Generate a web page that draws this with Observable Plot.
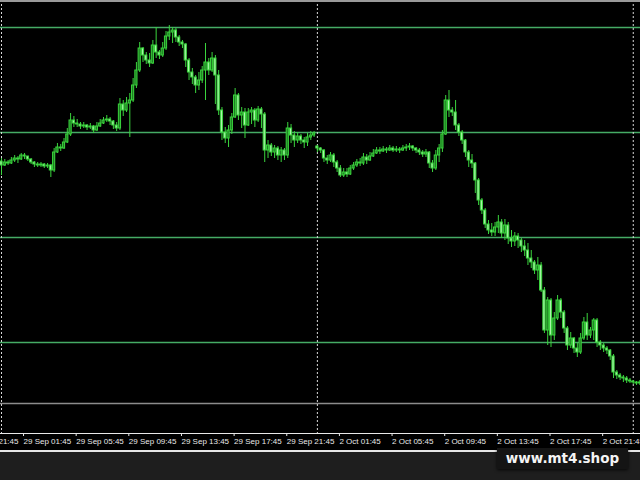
<!DOCTYPE html>
<html>
<head>
<meta charset="utf-8">
<script src="https://cdn.jsdelivr.net/npm/d3@7"></script>
<script src="https://cdn.jsdelivr.net/npm/@observablehq/plot@0.6"></script>
<style>
html,body{margin:0;padding:0;background:#1e1e1e;}
#wrap{position:relative;width:640px;height:480px;overflow:hidden;background:#1e1e1e;}
#chart{position:absolute;left:0;top:0;}
#topline{position:absolute;left:0;top:0;width:640px;height:2px;background:#9a9a9a;}
#baseline{position:absolute;left:0;top:450px;width:640px;height:2px;background:#e6e6e6;}
#wm{position:absolute;left:497px;top:448px;width:131px;height:21px;background:#141414;box-shadow:0 1px 3px rgba(0,0,0,0.8);color:#f4f4f4;font:bold 13.5px "DejaVu Sans",sans-serif;line-height:20px;text-align:center;}
</style>
</head>
<body>
<div id="wrap"><div id="chart"></div><div id="topline"></div><div id="baseline"></div><div id="wm">www.mt4.shop</div></div>
<script>
// M15 bars, 29 Sep 00:00 .. 3 Oct 00:30 (weekend skipped)
const open = [
1883.9,1883.5,1883.8,1883.7,1884.0,1884.2,1884.1,1884.5,1884.4,1884.1,
1883.8,1883.6,1883.5,1883.6,1883.4,1883.5,1883.0,1884.8,1885.3,1885.2,
1885.8,1886.6,1888.0,1887.7,1887.6,1887.4,1887.5,1887.3,1887.4,1887.0,
1887.4,1887.7,1888.0,1888.1,1887.9,1887.5,1887.2,1889.6,1889.0,1889.7,
1890.0,1891.5,1893.0,1895.2,1894.5,1894.0,1893.7,1895.5,1894.8,1894.5,
1895.2,1896.4,1896.8,1897.0,1896.3,1895.8,1895.6,1894.0,1892.8,1892.3,
1891.5,1892.0,1893.0,1893.8,1893.0,1894.2,1892.5,1889.0,1886.8,1886.2,
1887.0,1888.3,1890.5,1888.5,1888.8,1887.5,1888.8,1889.0,1888.0,1889.1,
1888.6,1885.0,1885.5,1884.8,1885.2,1884.5,1885.0,1884.5,1887.2,1886.5,
1886.0,1886.4,1886.0,1885.8,1886.3,1886.5,1885.4,1885.2,1885.0,1884.2,
1884.0,1884.5,1883.8,1883.2,1882.5,1882.8,1882.6,1883.2,1883.5,1883.8,
1883.7,1884.3,1884.0,1884.4,1884.7,1885.0,1884.9,1885.1,1885.0,1885.2,
1885.0,1885.1,1885.0,1885.2,1885.3,1885.4,1885.2,1885.0,1884.8,1884.6,
1884.8,1883.7,1883.2,1884.5,1885.2,1886.6,1890.0,1889.0,1888.8,1887.5,
1886.8,1886.0,1884.8,1884.0,1883.7,1882.0,1880.0,1879.0,1877.6,1877.0,
1876.8,1877.3,1877.8,1876.7,1877.5,1876.2,1875.9,1876.4,1876.0,1875.4,
1875.0,1874.2,1873.8,1873.0,1873.5,1871.0,1867.0,1870.0,1866.5,1868.2,
1870.0,1868.8,1867.2,1865.5,1866.2,1865.2,1864.8,1866.2,1867.8,1866.5,
1867.0,1868.0,1865.8,1865.5,1865.2,1865.0,1864.4,1862.8,1862.5,1862.3,
1862.2,1862.0,1861.9,1861.8,1861.7];
const high = [
1884.2,1884.1,1884.0,1884.3,1884.5,1884.4,1884.7,1884.7,1884.4,1884.2,
1883.9,1883.8,1883.8,1883.7,1883.7,1883.6,1885.2,1885.7,1885.6,1886.2,
1887.2,1888.7,1888.4,1888.1,1887.8,1887.8,1887.6,1887.7,1887.5,1887.8,
1888.1,1888.3,1888.5,1888.3,1888.0,1887.8,1890.2,1890.0,1890.3,1890.7,
1892.2,1893.8,1895.8,1895.3,1894.8,1894.7,1896.0,1897.3,1895.0,1895.8,
1896.9,1897.5,1897.3,1897.2,1896.5,1896.0,1895.7,1894.2,1893.2,1892.5,
1892.8,1893.4,1895.7,1894.2,1894.8,1894.5,1893.0,1889.3,1887.3,1887.5,
1888.7,1891.2,1890.7,1889.3,1889.2,1889.2,1889.3,1889.2,1889.4,1889.3,
1888.8,1886.0,1885.7,1885.5,1885.4,1885.3,1885.2,1887.8,1887.6,1886.9,
1886.8,1886.6,1886.3,1886.7,1886.9,1886.9,1885.5,1885.3,1885.1,1884.5,
1884.8,1884.7,1884.0,1883.5,1883.2,1883.2,1883.5,1883.8,1884.1,1884.2,
1884.7,1884.6,1884.8,1885.1,1885.3,1885.3,1885.4,1885.3,1885.5,1885.4,
1885.4,1885.3,1885.5,1885.6,1885.7,1885.5,1885.3,1885.2,1885.0,1885.1,
1884.9,1884.0,1885.0,1885.6,1887.0,1890.5,1891.0,1889.3,1890.0,1887.7,
1887.0,1886.1,1885.0,1884.6,1883.8,1882.2,1880.2,1879.2,1878.0,1877.7,
1877.8,1878.5,1878.1,1878.1,1877.8,1877.0,1876.8,1876.7,1876.2,1876.0,
1875.7,1875.0,1874.0,1874.3,1873.8,1871.3,1870.3,1870.2,1868.8,1870.5,
1870.2,1869.0,1867.4,1866.8,1866.3,1865.7,1866.7,1868.3,1868.7,1867.3,
1868.2,1868.2,1866.0,1865.7,1865.4,1865.1,1864.6,1863.0,1862.7,1862.5,
1862.4,1862.2,1862.0,1861.9,1862.0];
const low = [
1882.5,1883.4,1883.5,1883.6,1883.8,1883.7,1884.0,1884.1,1883.9,1883.6,
1883.3,1883.3,1883.3,1883.2,1883.2,1882.3,1882.8,1884.7,1884.9,1885.1,
1885.7,1886.4,1887.3,1887.3,1887.1,1887.2,1887.0,1887.1,1886.7,1886.9,
1887.3,1887.6,1887.8,1887.5,1887.1,1886.9,1887.0,1888.4,1888.8,1886.3,
1889.8,1891.2,1892.8,1893.8,1893.6,1893.3,1893.6,1894.2,1894.1,1894.3,
1895.0,1896.0,1895.7,1895.8,1895.4,1895.2,1893.3,1892.0,1891.6,1890.7,
1891.0,1891.7,1890.0,1892.5,1892.8,1889.6,1888.5,1886.0,1885.7,1885.3,
1886.6,1888.2,1888.0,1887.2,1886.2,1887.4,1887.6,1887.3,1887.8,1887.2,
1883.8,1884.2,1884.4,1884.2,1884.0,1883.8,1884.0,1884.2,1885.7,1885.3,
1885.7,1885.6,1885.2,1885.4,1886.0,1886.3,1884.8,1884.7,1883.8,1883.6,
1883.8,1883.3,1882.8,1882.3,1882.3,1882.3,1882.5,1883.0,1883.3,1883.4,
1883.5,1883.6,1883.9,1884.3,1884.6,1884.6,1884.8,1884.7,1884.9,1884.8,
1884.8,1884.7,1884.9,1884.9,1885.0,1884.9,1884.7,1884.5,1884.3,1884.3,
1883.2,1882.8,1883.0,1883.8,1884.8,1886.5,1888.3,1888.4,1887.0,1886.4,
1885.6,1884.3,1883.3,1883.2,1880.7,1879.5,1878.6,1877.2,1876.6,1876.4,
1876.4,1876.7,1876.2,1876.0,1875.6,1875.3,1875.4,1875.2,1874.8,1874.4,
1873.5,1873.2,1872.6,1872.0,1870.8,1866.7,1865.5,1865.3,1866.0,1868.0,
1868.2,1866.7,1865.0,1865.2,1864.7,1864.3,1864.6,1866.0,1866.0,1866.2,
1866.0,1865.3,1865.0,1864.8,1864.6,1864.0,1862.2,1862.1,1862.0,1861.8,
1861.7,1861.7,1861.6,1861.5,1861.5];
const close = [
1883.5,1883.8,1883.7,1884.0,1884.2,1884.1,1884.5,1884.4,1884.1,1883.8,
1883.6,1883.5,1883.6,1883.4,1883.5,1883.0,1884.8,1885.3,1885.2,1885.8,
1886.6,1888.0,1887.7,1887.6,1887.4,1887.5,1887.3,1887.4,1887.0,1887.4,
1887.7,1888.0,1888.1,1887.9,1887.5,1887.2,1889.6,1889.0,1889.7,1890.0,
1891.5,1893.0,1895.2,1894.5,1894.0,1893.7,1895.5,1894.8,1894.5,1895.2,
1896.4,1896.8,1897.0,1896.3,1895.8,1895.6,1894.0,1892.8,1892.3,1891.5,
1892.0,1893.0,1893.8,1893.0,1894.2,1892.5,1889.0,1886.8,1886.2,1887.0,
1888.3,1890.5,1888.5,1888.8,1887.5,1888.8,1889.0,1888.0,1889.1,1888.6,
1885.0,1885.5,1884.8,1885.2,1884.5,1885.0,1884.5,1887.2,1886.5,1886.0,
1886.4,1886.0,1885.8,1886.3,1886.5,1886.7,1885.2,1885.0,1884.2,1884.0,
1884.5,1883.8,1883.2,1882.5,1882.8,1882.6,1883.2,1883.5,1883.8,1883.7,
1884.3,1884.0,1884.4,1884.7,1885.0,1884.9,1885.1,1885.0,1885.2,1885.0,
1885.1,1885.0,1885.2,1885.3,1885.4,1885.2,1885.0,1884.8,1884.6,1884.8,
1883.7,1883.2,1884.5,1885.2,1886.6,1890.0,1889.0,1888.8,1887.5,1886.8,
1886.0,1884.8,1884.0,1883.7,1882.0,1880.0,1879.0,1877.6,1877.0,1876.8,
1877.3,1877.8,1876.7,1877.5,1876.2,1875.9,1876.4,1876.0,1875.4,1875.0,
1874.2,1873.8,1873.0,1873.5,1871.0,1867.0,1870.0,1866.5,1868.2,1870.0,
1868.8,1867.2,1865.5,1866.2,1865.2,1864.8,1866.2,1867.8,1866.5,1867.0,
1868.0,1865.8,1865.5,1865.2,1865.0,1864.4,1862.8,1862.5,1862.3,1862.2,
1862.0,1861.9,1861.8,1861.7,1861.8];

const levels = [1897.3, 1886.8, 1876.3, 1865.8];   // drawn horizontal lines
const bidLevel = [1859.7];                          // bid line
const separators = [0, 96, 192];                    // day separators (bar index)
const tickIdx = [-9, 7, 23, 39, 55, 71, 87, 103, 119, 135, 151, 167, 183];
const tickLabels = ["28 Sep 21:45","29 Sep 01:45","29 Sep 05:45","29 Sep 09:45","29 Sep 13:45","29 Sep 17:45","29 Sep 21:45",
                    "2 Oct 01:45","2 Oct 05:45","2 Oct 09:45","2 Oct 13:45","2 Oct 17:45","2 Oct 21:45"];
const yDomain = [1856.7, 1900];

const bars = close.map((c, i) => ({i, x1: i - 0.33, x2: i + 0.33, o: open[i], h: high[i], l: low[i], c, up: c >= open[i]}));

const chart = Plot.plot({
  width: 640, height: 450,
  marginTop: 0, marginBottom: 17, marginLeft: 0, marginRight: 0,
  style: {background: "#000", color: "#e8e8e8", fontFamily: "'Liberation Sans', Arial, sans-serif", fontSize: "8px", overflow: "hidden"},
  x: {type: "linear", domain: [-0.304, 194.2], axis: null},
  y: {domain: yDomain, axis: null},
  marks: [
    Plot.ruleY(levels, {stroke: "#45ab65", strokeWidth: 1.3}),
    Plot.ruleY(bidLevel, {stroke: "#8c8c8c", strokeWidth: 1.6}),
    Plot.ruleX(separators, {stroke: "#d8d8d8", strokeDasharray: "2,2", strokeWidth: 1}),
    Plot.ruleX(bars, {x: "i", y1: "l", y2: "h", stroke: "#3ad43d", strokeWidth: 1}),
    Plot.rect(bars, {x1: "x1", x2: "x2", y1: "o", y2: "c", stroke: "#3ad43d", strokeWidth: 1,
                     fill: d => d.up ? "#1e7a22" : "#a8f5a8"}),
    Plot.ruleY([yDomain[0]], {stroke: "#e8e8e8", strokeWidth: 1}),
    Plot.axisX(tickIdx, {
      tickFormat: d => tickLabels[tickIdx.indexOf(d)],
      textAnchor: "start", dx: -1, tickSize: 3, tickPadding: 2,
      stroke: "#e8e8e8", fill: "#e8e8e8", label: null
    })
  ]
});
document.getElementById("chart").appendChild(chart);
</script>
</body>
</html>
